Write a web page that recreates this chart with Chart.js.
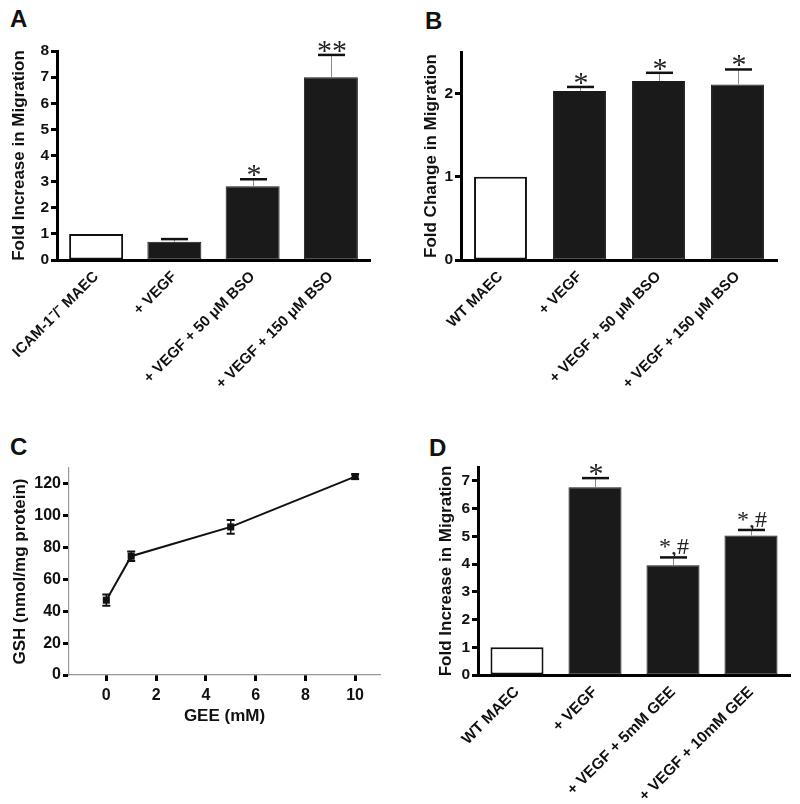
<!DOCTYPE html>
<html>
<head>
<meta charset="utf-8">
<script src="https://cdn.jsdelivr.net/npm/chart.js@4.4.0/dist/chart.umd.min.js"></script>
<style>
  html, body { margin:0; padding:0; background:#fff; }
  body { width:800px; height:804px; position:relative; overflow:hidden; }
  canvas { position:absolute; }
  .lbl { position:absolute; font-family:"Liberation Sans", Arial, sans-serif; font-weight:bold; font-size:24px; line-height:24px; color:#111; }
</style>
</head>
<body>
<div class="lbl" style="left:10px;top:7px;">A</div>
<div class="lbl" style="left:425px;top:9px;">B</div>
<div class="lbl" style="left:10px;top:435px;">C</div>
<div class="lbl" style="left:429px;top:436px;">D</div>
<canvas id="cA" width="400" height="400" style="left:0;top:0;"></canvas>
<canvas id="cB" width="400" height="400" style="left:400px;top:0;"></canvas>
<canvas id="cC" width="400" height="402" style="left:0;top:402px;"></canvas>
<canvas id="cD" width="400" height="402" style="left:400px;top:402px;"></canvas>
<script>
// ---- Data ----
const catsA = ['ICAM-1\u207B/\u207B MAEC', '+ VEGF', '+ VEGF + 50 \u03BCM BSO', '+ VEGF + 150 \u03BCM BSO'];
const valsA = [1.0, 0.70, 2.82, 7.0];
const errA  = [0, 0.10, 0.27, 0.85];
const marksA = ['', '', '*', '**'];
const ticksA = [0, 1, 2, 3, 4, 5, 6, 7, 8];

const catsB = ['WT MAEC', '+ VEGF', '+ VEGF + 50 \u03BCM BSO', '+ VEGF + 150 \u03BCM BSO'];
const valsB = [1.0, 2.03, 2.15, 2.11];
const errB  = [0, 0.05, 0.10, 0.18];
const marksB = ['', '*', '*', '*'];
const ticksB = [0, 1, 2];

const geeC = [0, 1, 5, 10];
const gshC = [47, 74.6, 93, 124.6];
const gshErrC = [3.5, 3, 4.3, 1.5];
const ticksCy = [0, 20, 40, 60, 80, 100, 120];
const ticksCx = [0, 2, 4, 6, 8, 10];

const catsD = ['WT MAEC', '+ VEGF', '+ VEGF + 5mM GEE', '+ VEGF + 10mM GEE'];
const valsD = [1.0, 6.77, 3.96, 5.03];
const errD  = [0, 0.33, 0.28, 0.20];
const marksD = ['', '*', '*,#', '*,#'];
const ticksD = [0, 1, 2, 3, 4, 5, 6, 7];

// ---- Styling helpers ----
const SANS = '"Liberation Sans", Arial, sans-serif';
const SERIF = '"Liberation Serif", "Times New Roman", serif';
const INK = '#111';

function setTicks(list) {
  return function (scale) { scale.ticks = list.map(v => ({ value: v })); };
}

function yAxis(opts) {
  return {
    min: opts.min, max: opts.max,
    afterBuildTicks: setTicks(opts.ticks),
    afterFit: s => { s.width = opts.width; },
    border: { display: true, width: opts.borderWidth || 3, color: opts.borderColor || '#000' },
    grid: { display: true, drawOnChartArea: false, drawTicks: true, tickLength: 6, tickWidth: 3, tickColor: '#000' },
    ticks: { font: { family: SANS, size: opts.tickSize || 15.5, weight: 'bold' }, color: INK, padding: 2 },
    title: { display: true, text: opts.title, color: INK, font: { family: SANS, size: 17, weight: 'bold' },
             padding: { top: opts.titlePad, bottom: 0 } }
  };
}

function xCat(height, size) {
  return {
    type: 'category', offset: true,
    afterFit: s => { s.height = height; },
    border: { display: true, width: 3, color: '#000' },
    grid: { display: false, drawTicks: false },
    ticks: { font: { family: SANS, size: size, weight: 'bold' }, color: INK, padding: 8,
             minRotation: 45, maxRotation: 45, autoSkip: false }
  };
}

// significance mark, ink bottom placed at bottomY
function drawMark(ctx, text, cx, bottomY) {
  ctx.textAlign = 'center'; ctx.textBaseline = 'alphabetic';
  if (/^\*+$/.test(text)) {
    ctx.font = '30px ' + SERIF;
    const m = ctx.measureText(text);
    ctx.fillText(text, cx, bottomY - m.actualBoundingBoxDescent);
  } else {
    ctx.font = '24px ' + SERIF;
    ctx.fillText(text, cx, bottomY);
  }
}

function barErrPlugin(vals, errs, marks) {
  return {
    id: 'errbars',
    afterDatasetsDraw(chart) {
      const { ctx, scales: { x, y } } = chart;
      ctx.save();
      vals.forEach((v, i) => {
        const e = errs[i];
        const cx = Math.round(x.getPixelForValue(i));
        const yTop = y.getPixelForValue(v);
        let yCap = yTop;
        if (e > 0) {
          yCap = y.getPixelForValue(v + e);
          ctx.strokeStyle = '#8a8a8a'; ctx.lineWidth = 1;
          ctx.beginPath(); ctx.moveTo(cx + 0.5, yTop); ctx.lineTo(cx + 0.5, yCap); ctx.stroke();
          ctx.strokeStyle = '#111'; ctx.lineWidth = 2.5;
          ctx.beginPath(); ctx.moveTo(cx - 13, yCap); ctx.lineTo(cx + 14, yCap); ctx.stroke();
        }
        const m = marks[i];
        if (m) {
          ctx.fillStyle = '#222';
          drawMark(ctx, m, cx + 1, yCap - 3);
        }
      });
      ctx.restore();
    }
  };
}

function barChart(id, cats, vals, errs, marks, cfg) {
  return new Chart(document.getElementById(id), {
    type: 'bar',
    data: {
      labels: cats,
      datasets: [{
        data: vals,
        backgroundColor: vals.map((v, i) => i === 0 ? '#ffffff' : '#1a1a1a'),
        borderColor: vals.map((v, i) => i === 0 ? '#111' : '#1a1a1a'),
        borderWidth: vals.map((v, i) => i === 0 ? 2 : 1),
        borderSkipped: false,
        barPercentage: 1.0,
        categoryPercentage: cfg.catPct
      }]
    },
    options: {
      responsive: false, animation: false, devicePixelRatio: 1,
      layout: { padding: { top: cfg.top, right: cfg.right, left: 0, bottom: 0 } },
      plugins: { legend: { display: false }, tooltip: { enabled: false } },
      scales: {
        x: xCat(cfg.xh, cfg.labelSize),
        y: yAxis({ min: 0, max: cfg.max, ticks: cfg.ticks, width: cfg.left, title: cfg.title, titlePad: cfg.titlePad })
      }
    },
    plugins: [barErrPlugin(vals, errs, marks)]
  });
}

barChart('cA', catsA, valsA, errA, marksA,
  { top: 51, right: 30, left: 57, xh: 140, max: 8, ticks: ticksA, catPct: 0.69, labelSize: 15,
    title: 'Fold Increase in Migration', titlePad: 9 });

barChart('cB', catsB, valsB, errB, marksB,
  { top: 52, right: 23, left: 61, xh: 140, max: 2.5, ticks: ticksB, catPct: 0.67, labelSize: 15,
    title: 'Fold Change in Migration', titlePad: 21 });

barChart('cD', catsD, valsD, errD, marksD,
  { top: 65, right: 10, left: 78, xh: 129, max: 7.5, ticks: ticksD, catPct: 0.68, labelSize: 15.5,
    title: 'Fold Increase in Migration', titlePad: 36 });

// ---- Panel C ----
const lineErrPlugin = {
  id: 'lineerr',
  afterDatasetsDraw(chart) {
    const { ctx, scales: { x, y } } = chart;
    ctx.save();
    ctx.strokeStyle = '#111';
    geeC.forEach((g, i) => {
      const px = x.getPixelForValue(g);
      const y1 = y.getPixelForValue(gshC[i] + gshErrC[i]);
      const y2 = y.getPixelForValue(gshC[i] - gshErrC[i]);
      ctx.lineWidth = 1.5;
      ctx.beginPath(); ctx.moveTo(px, y1); ctx.lineTo(px, y2); ctx.stroke();
      ctx.lineWidth = 2;
      ctx.beginPath();
      ctx.moveTo(px - 4, y1); ctx.lineTo(px + 4, y1);
      ctx.moveTo(px - 4, y2); ctx.lineTo(px + 4, y2);
      ctx.stroke();
    });
    ctx.restore();
  }
};

const yC = yAxis({ min: 0, max: 130, ticks: ticksCy, width: 69, title: 'GSH (nmol/mg protein)', titlePad: 10,
                   borderWidth: 1.2, borderColor: '#999', tickSize: 16 });

new Chart(document.getElementById('cC'), {
  type: 'line',
  data: {
    datasets: [{
      data: geeC.map((g, i) => ({ x: g, y: gshC[i] })),
      borderColor: '#111', backgroundColor: '#111', borderWidth: 2,
      pointStyle: 'rect', pointRadius: 5, pointBorderWidth: 0, tension: 0
    }]
  },
  options: {
    responsive: false, animation: false, devicePixelRatio: 1,
    layout: { padding: { top: 66, right: 20, left: 0, bottom: 0 } },
    plugins: { legend: { display: false }, tooltip: { enabled: false } },
    scales: {
      x: {
        type: 'linear', min: -1.5, max: 11,
        afterBuildTicks: setTicks(ticksCx),
        afterFit: s => { s.height = 129; },
        border: { display: true, width: 1.2, color: '#999' },
        grid: { display: true, drawOnChartArea: false, drawTicks: true, tickLength: 6, tickWidth: 3, tickColor: '#000' },
        ticks: { font: { family: SANS, size: 16, weight: 'bold' }, color: INK, padding: 5, maxRotation: 0 },
        title: { display: true, text: 'GEE (mM)', color: INK, font: { family: SANS, size: 17, weight: 'bold' },
                 padding: { top: 0, bottom: 77 } }
      },
      y: yC
    }
  },
  plugins: [lineErrPlugin]
});
</script>
</body>
</html>
